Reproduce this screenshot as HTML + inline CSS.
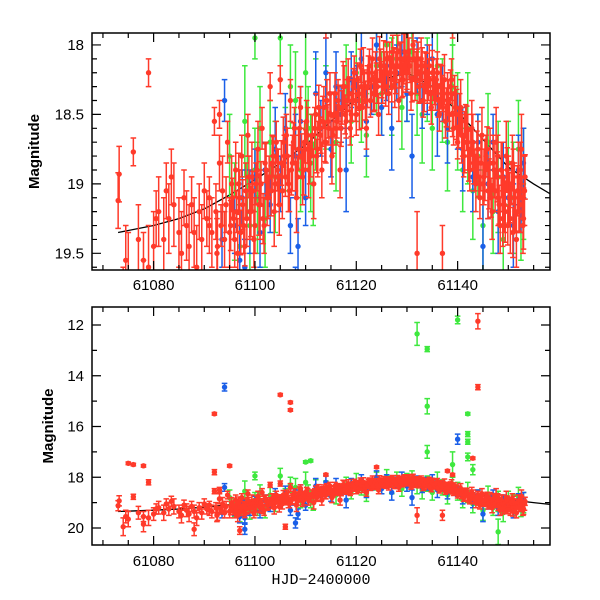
<!DOCTYPE html>
<html><head><meta charset="utf-8"><style>
html,body{margin:0;padding:0;background:#fff;}
svg{display:block;font-family:"Liberation Sans",sans-serif;}
</style></head><body>
<svg id="chart" width="600" height="600" viewBox="0 0 600 600">
<defs>
<clipPath id="clipTop"><rect x="92" y="33" width="458" height="237"/></clipPath>
<clipPath id="clipBot"><rect x="92" y="307" width="458" height="238"/></clipPath>
</defs>
</svg>
<script>
// ---- data ----
const redT = [61073,61073.2,61074.5,61075,61076,61077,61078,61079,61080,61080.5,
61081,61082,61082.5,61083,61083.5,61084,61085,61085.5,61086,61086.5,
61087,61087.5,61088,61088.5,61089,61089.5,61090,61091,61092.5,61093,
61090.5,61091,61091.5,61092,61092.3,61092.6,61093,61093.3,61093.6,61094,
61094.3,61094.6,61095,61095.4,61095.8,61096.2,61096.6,61097,61097.4,61097.8,
61098.2,61098.6,61099,61099.4,61099.8,61100.2,61100.6,61101,61101.4,61101.8,
61102.2,61102.6,61103,61103.4,61103.8,61104.2,61104.6,61105,61105.4,61105.8,
61106.2,61106.6,61107,61107.4,61107.8,61108.2,61108.6,61109,61109.4,61109.8,
61110.2,61110.6,61111,61111.3,61111.6,61112,61112.4,61112.8,61113.2,61113.6,
61114,61114.4,61114.8,61115.2,61115.6,61116,61116.4,61116.8,61117.2,61117.6,
61118,61118.4,61118.8,61119.2,61119.6,61120,61120.4,61120.8,61121.2,61121.6,
61122,61122.4,61122.8,61123.2,61123.6,61124,61124.4,61124.8,61125.2,61125.6,
61126,61126.4,61126.8,61127.2,61127.6,61128,61128.4,61128.8,61129.2,61129.6,
61130,61130.4,61130.8,61131.2,61131.6,61132,61132.4,61132.8,61133.2,61133.6,
61134,61134.4,61134.8,61135.2,61135.6,61136,61136.4,61136.8,61137.2,61137.6,
61138,61138.4,61138.8,61139.2,61139.6,61140,61140.4,61140.8,61141.2,61141.6,
61142,61142.4,61142.8,61143.2,61143.6,61144,61144.4,61144.8,61145.2,61145.6,
61146,61146.4,61146.8,61147.2,61147.6,61148,61148.4,61148.8,61149.2,61149.6,
61150,61150.4,61150.8,61151.2,61151.6,61152,61152.3,61152.6,61152.9,61153.2];
const redM = [19.12,18.93,19.55,19.65,18.77,19.4,19.55,19.6,19.45,19.25,
19.2,19.4,19.05,19.25,18.95,19.15,19.35,19.5,19.1,19.3,
19.45,19.15,19.35,19.6,19.2,19.4,19.05,19.3,19.5,18.5,
19.25,19.1,19.35,18.55,19.2,19.45,18.85,19.3,19.05,19.4,
19.15,18.7,19.35,19.0,19.25,18.9,19.5,19.1,18.8,19.3,
19.05,18.65,19.2,18.95,19.4,19.0,18.75,19.15,18.6,19.3,
18.9,19.1,18.3,18.85,19.2,18.7,18.95,18.25,19.05,18.8,
18.65,19.0,18.4,18.85,18.6,19.1,18.75,18.45,18.95,18.7,
18.55,18.9,18.8,18.65,19.0,18.5,18.75,18.6,18.9,18.45,
18.7,18.55,18.35,18.8,18.5,18.6,18.4,18.9,18.45,18.3,
18.55,18.25,18.6,18.4,18.2,18.5,18.35,18.15,18.45,18.3,
18.6,18.2,18.4,18.1,18.35,18.25,18.5,18.15,18.3,18.2,
18.1,18.35,18.2,18.05,18.3,18.15,18.4,18.1,18.25,18.05,
18.2,18.1,18.35,18.0,18.25,18.15,18.3,18.1,18.4,18.2,
18.3,18.15,18.45,18.25,18.35,18.2,18.5,18.3,18.4,18.55,
18.35,18.5,18.25,18.6,18.45,18.7,18.5,18.65,18.8,18.55,
18.7,18.9,18.6,18.85,19.0,18.75,19.1,18.65,18.95,18.8,
19.05,18.85,19.2,18.9,18.7,19.1,19.3,18.95,19.15,18.8,
19.0,19.25,18.85,19.1,19.4,18.95,19.15,18.75,19.3,19.05];
const redE = [0.2,0.2,0.25,0.3,0.1,0.25,0.2,0.3,0.25,0.2,
0.25,0.3,0.2,0.25,0.2,0.3,0.25,0.3,0.2,0.25,
0.3,0.2,0.25,0.3,0.2,0.25,0.2,0.2,0.25,0.1,
0.2,0.15,0.25,0.1,0.2,0.25,0.2,0.15,0.25,0.2,
0.2,0.15,0.25,0.2,0.15,0.2,0.25,0.2,0.15,0.2,
0.2,0.15,0.2,0.25,0.2,0.15,0.2,0.25,0.15,0.2,
0.2,0.15,0.1,0.2,0.25,0.15,0.2,0.1,0.2,0.15,
0.15,0.2,0.15,0.2,0.15,0.25,0.15,0.15,0.2,0.15,
0.15,0.2,0.15,0.15,0.25,0.15,0.2,0.15,0.2,0.15,
0.15,0.12,0.15,0.2,0.15,0.12,0.15,0.2,0.12,0.15,
0.12,0.15,0.12,0.15,0.12,0.15,0.12,0.12,0.15,0.12,
0.15,0.12,0.12,0.15,0.12,0.12,0.15,0.12,0.12,0.15,
0.12,0.15,0.12,0.12,0.15,0.12,0.15,0.12,0.12,0.15,
0.12,0.15,0.12,0.12,0.15,0.12,0.12,0.15,0.12,0.15,
0.12,0.15,0.12,0.15,0.12,0.15,0.12,0.15,0.15,0.12,
0.15,0.12,0.15,0.12,0.15,0.12,0.15,0.2,0.15,0.12,
0.2,0.15,0.2,0.15,0.2,0.2,0.15,0.2,0.2,0.15,
0.2,0.25,0.2,0.2,0.25,0.2,0.2,0.25,0.2,0.25,
0.2,0.25,0.2,0.25,0.2,0.25,0.2,0.25,0.2,0.25];
const redT2 = [61095.2,61095.6,61096,61096.4,61096.8,61097.2,61097.6,61098,61098.4,61098.8,
61099.2,61099.6,61100,61100.4,61100.8,61101.2,61101.6,61102,61102.4,61102.8,
61103.2,61103.6,61104,61104.4,61104.8,61105.2,61105.6,61106,61106.4,61106.8,
61107.2,61107.6,61108,61108.4,61108.8,61109.2,61109.6,61110,61110.4,61110.8,
61111.8,61112.2,61112.6,61113,61113.4,61113.8,61114.2,61114.6,61115,61115.4,
61115.8,61116.2,61116.6,61117,61117.4,61117.8,61118.2,61118.6,61119,61119.4,
61119.8,61120.2,61120.6,61121,61121.4,61121.8,61122.2,61122.6,61123,61123.4,
61123.8,61124.2,61124.6,61125,61125.4,61125.8,61126.2,61126.6,61127,61127.4,
61127.8,61128.2,61128.6,61129,61129.4,61129.8,61130.2,61130.6,61131,61131.4,
61131.8,61132.2,61132.6,61133,61133.4,61133.8,61134.2,61134.6,61135,61135.4,
61135.8,61136.2,61136.6,61137,61137.4,61137.8,61138.2,61138.6,61139,61139.4,
61139.8,61140.2,61140.6,61141,61141.4,61141.8,61142.2,61142.6,61143,61143.4,
61143.8,61144.2,61144.6,61145,61145.4,61145.8,61146.2,61146.6,61147,61147.4,
61147.8,61148.2,61148.6,61149,61149.4,61149.8,61150.2,61150.6,61151,61151.4,
61151.8,61152.1,61152.4,61152.7,61153,61153.3,61150.9,61149.9,61148.9,61147.9];
const redM2 = [19.3,19.1,19.4,19.2,19.0,19.35,19.15,19.45,19.25,18.95,
19.2,19.05,19.3,18.9,19.15,19.0,19.25,18.85,19.1,18.95,
19.05,18.8,19.0,18.9,19.15,18.85,18.7,18.95,18.8,19.05,
18.9,18.7,18.85,18.95,18.6,18.8,18.9,18.75,18.65,18.85,
18.6,18.8,18.45,18.65,18.55,18.7,18.4,18.6,18.5,18.65,
18.35,18.55,18.45,18.6,18.3,18.5,18.4,18.35,18.5,18.3,
18.4,18.25,18.45,18.3,18.2,18.4,18.3,18.15,18.25,18.35,
18.2,18.3,18.1,18.25,18.15,18.3,18.2,18.1,18.25,18.15,
18.2,18.05,18.15,18.25,18.1,18.2,18.05,18.15,18.25,18.1,
18.2,18.1,18.25,18.15,18.3,18.2,18.25,18.35,18.2,18.3,
18.25,18.4,18.3,18.35,18.25,18.45,18.4,18.3,18.5,18.35,
18.5,18.6,18.45,18.65,18.7,18.6,18.8,18.75,18.7,18.9,
18.8,18.95,18.85,19.0,18.9,18.75,19.0,19.1,18.85,19.05,
18.95,19.15,18.9,19.05,19.2,18.9,19.1,19.0,18.95,19.2,
19.05,19.2,18.9,19.1,19.25,18.95,19.35,19.3,19.25,18.8];
const redE2 = [0.18,0.14,0.2,0.15,0.22,0.16,0.18,0.14,0.2,0.15,
0.18,0.14,0.2,0.15,0.22,0.16,0.18,0.14,0.2,0.15,
0.18,0.14,0.2,0.15,0.22,0.16,0.18,0.14,0.2,0.15,
0.18,0.14,0.2,0.15,0.22,0.16,0.18,0.14,0.2,0.15,
0.15,0.12,0.16,0.13,0.18,0.14,0.15,0.12,0.16,0.13,
0.15,0.12,0.16,0.13,0.18,0.14,0.15,0.12,0.16,0.13,
0.15,0.12,0.16,0.13,0.18,0.14,0.15,0.12,0.16,0.13,
0.15,0.12,0.16,0.13,0.18,0.14,0.15,0.12,0.16,0.13,
0.15,0.12,0.16,0.13,0.18,0.14,0.15,0.12,0.16,0.13,
0.15,0.12,0.16,0.13,0.18,0.14,0.15,0.12,0.16,0.13,
0.15,0.12,0.16,0.13,0.18,0.14,0.15,0.12,0.16,0.13,
0.18,0.14,0.2,0.15,0.22,0.16,0.18,0.14,0.2,0.15,
0.18,0.14,0.2,0.15,0.22,0.16,0.18,0.14,0.2,0.15,
0.18,0.14,0.2,0.15,0.22,0.16,0.18,0.14,0.2,0.15,
0.18,0.14,0.2,0.15,0.22,0.16,0.18,0.14,0.2,0.15];
const redOutT = [61075,61076,61078,61079,61092,61092,61095,61105,61107,61107,61144,61144,61143,61074,61078,61088,61097,61106,61132,61137,61114,61124,61138,61139];
const redOutM = [17.45,17.5,17.55,18.2,15.5,17.8,17.55,14.75,15.05,15.35,11.85,14.45,17.25,19.95,19.85,20.05,20.1,19.95,19.5,19.5,17.9,17.6,17.75,17.9];
const redOutE = [0.05,0.05,0.05,0.1,0.05,0.1,0.05,0.05,0.05,0.05,0.3,0.1,0.05,0.35,0.3,0.25,0.15,0.1,0.3,0.2,0.05,0.05,0.05,0.05];

const blueT = [61093.5,61094,61096,61097,61097.5,61098,61099,61100,61101,61102,
61103,61104,61105,61106,61107,61108,61108.5,61109,61110,61112,
61113,61114,61115,61116,61117,61118,61119,61120,61121,61122,
61123,61124,61125,61126,61127,61128,61129,61130,61131,61132,
61133,61134,61135,61136,61137,61138,61140,61141,61143,61144,
61145,61146,61147,61148,61149,61150,61151,61152,61152.5,61153,
61094,61140,61098,61108];
const blueM = [19.4,18.4,19.3,19.55,19.1,19.6,19.2,18.95,19.35,18.9,
19.15,18.75,19.0,18.6,19.3,18.8,19.45,18.55,19.1,18.35,
18.6,18.2,18.75,18.3,18.5,18.9,18.25,18.4,18.1,18.55,
18.3,18.0,18.45,18.15,18.6,18.2,18.05,18.35,18.8,18.15,
18.4,18.25,18.1,18.5,18.35,18.6,18.55,18.75,18.95,18.7,
19.45,19.0,18.7,19.2,18.95,19.1,19.3,18.9,19.15,18.85,
14.45,16.5,20.05,19.8];
const blueE = [0.2,0.15,0.2,0.25,0.2,0.2,0.3,0.2,0.25,0.2,
0.2,0.3,0.2,0.25,0.2,0.3,0.2,0.25,0.2,0.3,
0.2,0.25,0.2,0.25,0.2,0.3,0.2,0.25,0.2,0.25,
0.2,0.25,0.2,0.25,0.3,0.2,0.25,0.2,0.3,0.2,
0.2,0.25,0.2,0.3,0.2,0.25,0.2,0.3,0.25,0.2,
0.3,0.25,0.2,0.3,0.25,0.2,0.3,0.25,0.2,0.25,
0.15,0.2,0.2,0.2];

const greenT = [61095,61096,61097,61098,61098.5,61099,61100,61100.5,61101,61102,
61103,61104,61106,61108,61109,61110,61110.5,61111,61111.5,61112,
61114,61116,61118,61119,61120,61121,61122,61124,61125,61126,
61127,61128,61129,61130,61131,61132,61133,61134,61135,61136,
61137,61138,61139,61140,61141,61142,61143,61144,61145,61146,
61147,61148,61149,61150,61151,61152,61152.5,61153,61107,61105,
61132,61134,61134,61134,61140,61142,61142,61142,61142,61111,61110,61100,61148,61143,61139];
const greenM = [18.8,19.2,19.45,18.55,18.95,19.3,18.9,19.1,18.6,19.25,
18.7,18.95,18.75,18.4,18.9,18.2,18.6,18.85,19.0,18.5,
18.45,18.7,18.3,18.55,18.2,18.4,18.65,18.15,18.35,18.0,
18.3,18.1,18.45,18.2,18.05,18.35,18.5,18.25,18.6,18.15,
18.4,18.7,18.3,18.55,18.9,18.6,19.05,18.8,19.3,18.7,
19.2,18.95,19.4,18.85,19.1,18.75,19.25,19.0,18.3,17.95,
12.35,12.95,15.2,17.0,11.8,15.5,16.3,16.6,17.2,17.35,17.4,17.95,20.15,17.7,17.5];
const greenE = [0.3,0.35,0.3,0.4,0.3,0.35,0.3,0.4,0.3,0.35,
0.3,0.4,0.3,0.35,0.3,0.4,0.3,0.35,0.3,0.4,
0.3,0.35,0.3,0.3,0.35,0.3,0.3,0.35,0.3,0.3,
0.35,0.3,0.3,0.35,0.3,0.3,0.35,0.3,0.3,0.35,
0.3,0.35,0.3,0.35,0.3,0.4,0.35,0.3,0.4,0.35,
0.3,0.4,0.35,0.3,0.4,0.35,0.3,0.4,0.3,0.3,
0.45,0.1,0.3,0.25,0.15,0.05,0.1,0.1,0.15,0.05,0.05,0.15,0.5,0.2,0.5];

const modelT = [61073,61080,61085,61090,61095,61100,61105,61110,61115,61120,61125,61130,61135,61140,61145,61150,61155,61158.2];
const modelM = [19.35,19.3,19.25,19.18,19.08,18.97,18.85,18.72,18.55,18.38,18.25,18.2,18.3,18.48,18.68,18.88,19.0,19.07];

const xTicks = [61080,61100,61120,61140];
const topYTicks = [18,18.5,19,19.5];
const botYTicks = [12,14,16,18,20];

// ---- drawing ----
const NS = "http://www.w3.org/2000/svg";
const svg = document.getElementById("chart");
const X0 = 92, X1 = 550, T0 = 61067.84, T1 = 61158.23;
function xs(t){ return X0 + (t - T0) / (T1 - T0) * (X1 - X0); }
function mk(tag, attrs, parent){
  const e = document.createElementNS(NS, tag);
  for (const k in attrs) e.setAttribute(k, attrs[k]);
  parent.appendChild(e); return e;
}
const COLORS = {red:"#ff3a2a", blue:"#1a5fe8", green:"#3ee83e"};

function panel(name, yTop, yBot, mTop, mBot, yTicks, minorStep, yLabelX, clipId, xLabelY){
  const ys = m => yTop + (m - mTop) / (mBot - mTop) * (yBot - yTop);
  const g = mk("g", {}, svg);
  
  
  const plot = mk("g", {"clip-path":"url(#" + clipId + ")"}, g);
  
  
  let d = "";
  modelT.forEach((t,i)=>{ d += (i? "L":"M") + xs(t).toFixed(1) + "," + ys(modelM[i]).toFixed(1); });
  const path = mk("path", {d:d, fill:"none", stroke:"#000", "stroke-width":1.3}, plot);
  
  
  function series(sname, T, M, E, col){
    const sg = mk("g", {}, plot);
    
    
    T.forEach((t,i)=>{
      const x = xs(t), y = ys(M[i]), y1 = ys(M[i]-E[i]), y2 = ys(M[i]+E[i]);
      const eb = mk("path", {d:"M"+x+","+y1+"V"+y2+"M"+(x-2.8)+","+y1+"h5.6M"+(x-2.8)+","+y2+"h5.6", stroke:col, "stroke-width":1.5, fill:"none"}, sg);
      
      
      const c = mk("circle", {cx:x, cy:y, r:2.7, fill:col}, sg);
      
      
    });
  }
  series("green", greenT, greenM, greenE, COLORS.green);
  series("blue", blueT, blueM, blueE, COLORS.blue);
  series("red", redT, redM, redE, COLORS.red);
  series("red-dense", redT2, redM2, redE2, COLORS.red);
  series("red-outlier", redOutT, redOutM, redOutE, COLORS.red);
  const fr = mk("rect", {x:X0, y:yTop, width:X1-X0, height:yBot-yTop, fill:"none", stroke:"#000", "stroke-width":1.5}, g);
  
  
  for (let t = 61070; t <= 61158; t += 5){
    const x = xs(t), L = (t % 20 === 0) ? 9 : 5;
    const tk = mk("path", {d:"M"+x+","+yBot+"v"+(-L)+"M"+x+","+yTop+"v"+L, stroke:"#000", "stroke-width":1.2}, g);
    
    
  }
  xTicks.forEach(t=>{
    const tx = mk("text", {x:xs(t), y:xLabelY, "text-anchor":"middle", "font-size":15}, g);
    tx.textContent = t;
    
    
  });
  const n = Math.round((mBot - mTop) / minorStep) + 2;
  const start = Math.ceil(mTop / minorStep) * minorStep;
  for (let i = 0; i < n; i++){
    const m = +(start + i*minorStep).toFixed(3);
    if (m > mBot) break;
    const y = ys(m);
    const major = yTicks.some(v => Math.abs(v - m) < 1e-6);
    const L = major ? 9 : 5;
    const tk = mk("path", {d:"M"+X0+","+y+"h"+L+"M"+X1+","+y+"h"+(-L), stroke:"#000", "stroke-width":1.2}, g);
    
    
  }
  yTicks.forEach(m=>{
    const tx = mk("text", {x:yLabelX, y:ys(m)+5, "text-anchor":"end", "font-size":15}, g);
    tx.textContent = m;
    
    
  });
  const yl = mk("text", {x:0, y:0, "text-anchor":"middle", "font-size":15, "font-weight":"bold", transform:"translate(" + (name==="top"?39:53) + "," + ((yTop+yBot)/2) + ") rotate(-90)"}, g);
  yl.textContent = "Magnitude";
  
  
}
panel("top", 33, 270, 17.914, 19.62, topYTicks, 0.1, 84, "clipTop", 290);
panel("bottom", 307, 545, 11.29, 20.67, botYTicks, 1, 84, "clipBot", 566);
const xt = mk("text", {x:321, y:584, "text-anchor":"middle", "font-size":15, "font-family":"Liberation Mono, monospace"}, svg);
xt.textContent = "HJD\u22122400000";


</script>
</body></html>
